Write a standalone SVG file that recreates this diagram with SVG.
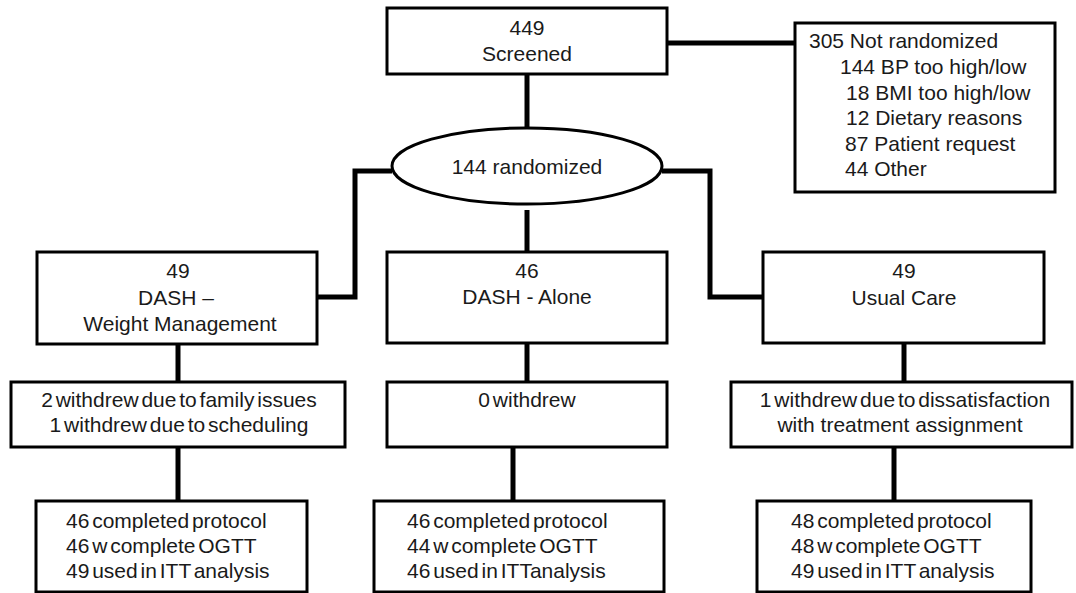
<svg xmlns="http://www.w3.org/2000/svg" width="1076" height="593" viewBox="0 0 1076 593">
<style>
.box{fill:#fff;stroke:#000;stroke-width:3}
.conn{fill:none;stroke:#000;stroke-width:5;stroke-linejoin:miter}
text{font-family:"Liberation Sans",Arial,sans-serif;font-size:21px;fill:#1a1a1a}
.c{text-anchor:middle}
.t{word-spacing:-3px}
</style>
<rect width="1076" height="593" fill="#fff"/>
<g id="connectors">
<path class="conn" d="M667,43 H795"/>
<path class="conn" d="M527,74 V128"/>
<path class="conn" d="M392,171 H355 V297 H317"/>
<path class="conn" d="M662,171 H710 V297 H763"/>
<path class="conn" d="M527,210 V252"/>
<path class="conn" d="M178,344 V382"/>
<path class="conn" d="M527,343 V382"/>
<path class="conn" d="M904,343 V382"/>
<path class="conn" d="M178,447 V501"/>
<path class="conn" d="M513,447 V501"/>
<path class="conn" d="M894,447 V501"/>
</g>
<g id="screened">
<rect class="box" x="387" y="8" width="280" height="66"/>
<text class="c" x="527" y="35">449</text>
<text class="c" x="527" y="61">Screened</text>
</g>
<g id="not-randomized">
<rect class="box" x="795" y="23" width="260" height="169"/>
<text x="809" y="48">305 Not randomized</text>
<text x="840" y="74">144 BP too high/low</text>
<text x="846" y="100">18 BMI too high/low</text>
<text x="846" y="125">12 Dietary reasons</text>
<text x="845" y="151">87 Patient request</text>
<text x="845" y="176">44 Other</text>
</g>
<g id="randomized">
<ellipse class="box" cx="527" cy="166" rx="135" ry="38"/>
<text class="c" x="527" y="174">144 randomized</text>
</g>
<g id="dash-wm">
<rect class="box" x="37" y="252" width="280" height="92"/>
<text class="c" x="178" y="278">49</text>
<text class="c" x="176" y="305">DASH –</text>
<text class="c" x="180" y="331">Weight Management</text>
</g>
<g id="dash-alone">
<rect class="box" x="387" y="252" width="280" height="91"/>
<text class="c" x="527" y="278">46</text>
<text class="c" x="527" y="304">DASH - Alone</text>
</g>
<g id="usual-care">
<rect class="box" x="763" y="252" width="281" height="91"/>
<text class="c" x="904" y="278">49</text>
<text class="c" x="904" y="305">Usual Care</text>
</g>
<g id="withdrew-wm">
<rect class="box" x="11" y="382" width="334" height="65"/>
<text class="c t" x="179" y="407">2 withdrew due to family issues</text>
<text class="c t" x="179" y="432">1 withdrew due to scheduling</text>
</g>
<g id="withdrew-alone">
<rect class="box" x="387" y="382" width="280" height="65"/>
<text class="c t" x="527" y="407">0 withdrew</text>
</g>
<g id="withdrew-uc">
<rect class="box" x="731" y="382" width="341" height="65"/>
<text class="c t" x="905" y="407">1 withdrew due to dissatisfaction</text>
<text class="c" x="900" y="432">with treatment assignment</text>
</g>
<g id="completed-wm">
<rect class="box" x="36" y="501" width="271" height="91"/>
<text class="t" x="66" y="528">46 completed protocol</text>
<text class="t" x="66" y="553">46 w complete OGTT</text>
<text class="t" x="66" y="578">49 used in ITT analysis</text>
</g>
<g id="completed-alone">
<rect class="box" x="374" y="501" width="290" height="91"/>
<text class="t" x="407" y="528">46 completed protocol</text>
<text class="t" x="407" y="553">44 w complete OGTT</text>
<text class="t" x="407" y="578">46 used in ITTanalysis</text>
</g>
<g id="completed-uc">
<rect class="box" x="757" y="501" width="274" height="91"/>
<text class="t" x="791" y="528">48 completed protocol</text>
<text class="t" x="791" y="553">48 w complete OGTT</text>
<text class="t" x="791" y="578">49 used in ITT analysis</text>
</g>
</svg>
